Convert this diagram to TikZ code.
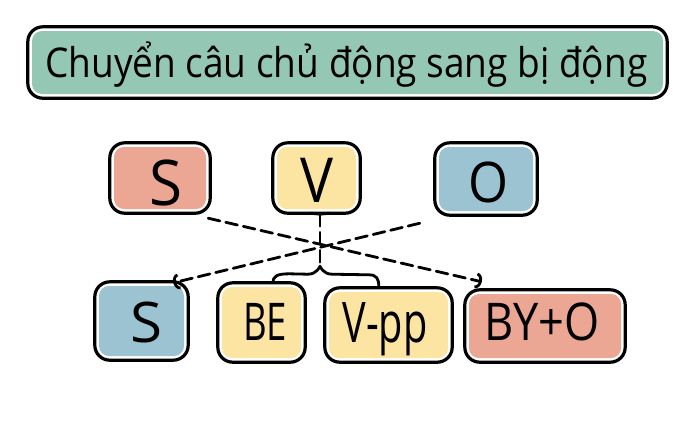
\documentclass[tikz,border=0pt]{standalone}
\usepackage{fontspec}
\usepackage{graphicx}
\setmainfont{Open Sans}
\usetikzlibrary{arrows.meta,calc}
\definecolor{cgreen}{HTML}{95C8B4}
\definecolor{csalmon}{HTML}{ECA694}
\definecolor{cyellow}{HTML}{FCE4A3}
\definecolor{cblue}{HTML}{9BC3D2}
\newcommand{\hw}[3]{\resizebox{#1pt}{\height}{\fontsize{#2}{#2}\selectfont #3}}
\begin{document}
\begin{tikzpicture}[x=1pt,y=-1pt,
  fillbox/.style={draw=none, rounded corners=10pt, inner sep=0pt},
  outline/.style={draw=black, line width=3.2pt, rounded corners=15pt},
  lbl/.style={anchor=base, inner sep=0pt, text=black},
  dline/.style={line width=2.8pt, dash pattern=on 12pt off 6pt, line cap=round},
  tip/.style={-{Arc Barb[length=6pt,width=16pt,line width=2.8pt]}},
  brc/.style={line width=2.8pt, line cap=round, line join=round}]
\useasboundingbox (0,0) rectangle (700,421);
\fill[white] (0,0) rectangle (700,421);

% fills (named nodes)
\node[fillbox, fill=cgreen, minimum width=631pt, minimum height=63pt] (title) at (347.5,62.5) {};
\node[fillbox, fill=csalmon, minimum width=92pt, minimum height=62pt] (sT) at (160,178) {};
\node[fillbox, fill=cyellow, minimum width=79pt, minimum height=62pt] (vT) at (316.5,178) {};
\node[fillbox, fill=cblue, minimum width=94pt, minimum height=64pt] (oT) at (486,179) {};
\node[fillbox, fill=cblue, minimum width=85pt, minimum height=70pt] (sB) at (141.5,321) {};
\node[fillbox, fill=cyellow, minimum width=79pt, minimum height=71pt] (beB) at (261.5,322.5) {};
\node[fillbox, fill=cyellow, minimum width=119pt, minimum height=66pt] (vpB) at (388.5,325) {};
\node[fillbox, fill=csalmon, minimum width=152pt, minimum height=64pt] (byB) at (545,326) {};

% outlines
\foreach \n in {title,sT,vT,oT,sB,beB,vpB,byB}
  \draw[outline] ($(\n.south west)+(-4,4)$) rectangle ($(\n.north east)+(4,-4)$);

% texts
\node[lbl, anchor=base west] (tTitle) at (45,77) {\hw{602}{41}{Chuyển câu chủ động sang bị động}};
\node[lbl] (tsT) at (166,205) {\hw{33}{63}{S}};
\node[lbl] (tvT) at (317,202) {\hw{33}{62}{V}};
\node[lbl] (toT) at (488,202) {\hw{40}{56}{O}};
\node[lbl] (tsB) at (146,342) {\hw{32}{56}{S}};
\node[lbl] (tbeB) at (265,340) {\hw{44}{52}{BE}};
\node[lbl] (tvpB) at (385,342) {\hw{85}{56}{V-pp}};
\node[lbl] (tbyB) at (542,340) {\hw{115}{52}{BY+O}};

% connectors
\coordinate (tipV) at ($(vT.south)+(3.5,5)$);
\coordinate (brTip) at ($(vT.south)+(3.5,57)$);
\draw[brc] ($(vT.south)+(-6,4)$) -- (tipV) -- ($(vT.south)+(13,4)$);
\draw[dline] (tipV) -- (brTip);
\draw[brc] ($(beB.north)+(11.5,-4)$) .. controls ($(beB.north)+(11.5,-11)$) and ($(beB.north)+(16,-13)$) .. ($(beB.north)+(28,-13)$)
  -- ($(brTip)+(-12,8)$) .. controls ($(brTip)+(-3,8)$) and (brTip) .. (brTip)
  .. controls (brTip) and ($(brTip)+(3,8)$) .. ($(brTip)+(12,8)$)
  -- ($(vpB.north west)+(40,-17)$) .. controls ($(vpB.north west)+(48,-17)$) and ($(vpB.north west)+(50,-13)$) .. ($(vpB.north west)+(50,-5)$);
\draw[dline, tip] ($(sT.south east)+(2,9)$) -- ($(byB.north west)+(13,-12)$);
\draw[dline, tip] ($(oT.south west)+(-19,12)$) -- ($(sB.north east)+(-11,-3)$);
\end{tikzpicture}
\end{document}
